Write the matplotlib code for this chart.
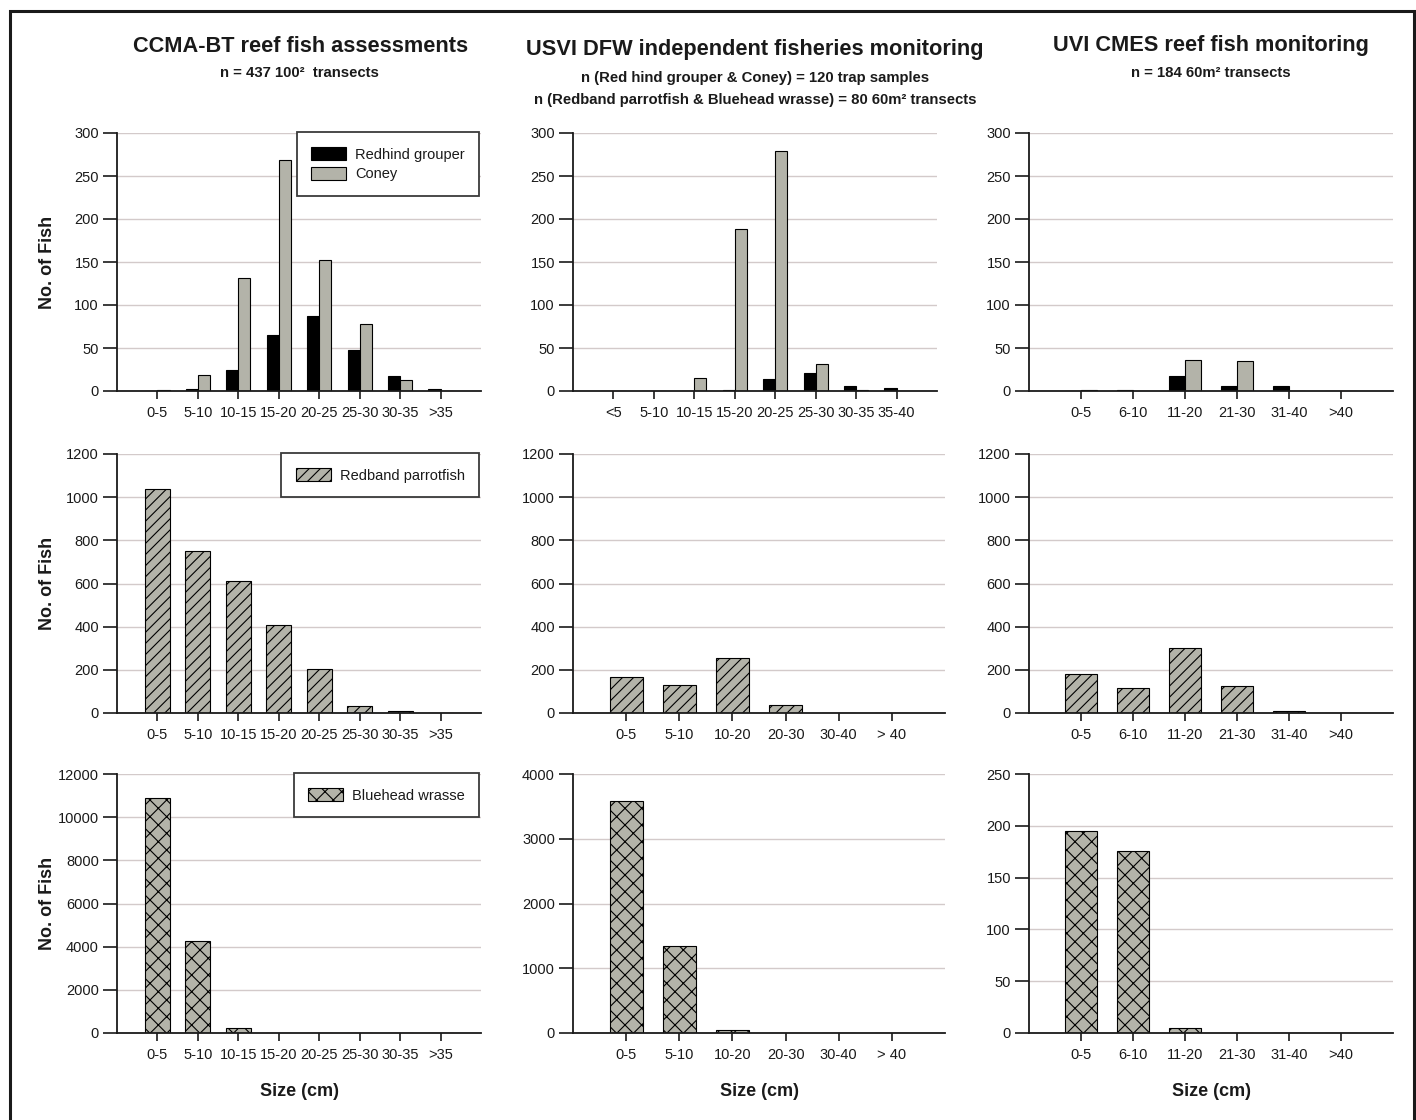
import matplotlib
matplotlib.use("Agg")
import matplotlib.pyplot as plt
from matplotlib.patches import Rectangle
import numpy as np

plt.rcParams['font.family'] = ['Liberation Sans', 'DejaVu Sans']
plt.rcParams['hatch.linewidth'] = 0.8
plt.rcParams['text.color'] = '#1a1a1a'
plt.rcParams['xtick.color'] = '#1a1a1a'
plt.rcParams['ytick.color'] = '#1a1a1a'

# Size classes used by each monitoring programme
ccma_sizes = ["0-5", "5-10", "10-15", "15-20", "20-25", "25-30", "30-35", ">35"]
dfw_trap_sizes = ["<5", "5-10", "10-15", "15-20", "20-25", "25-30", "30-35", "35-40"]
dfw_transect_sizes = ["0-5", "5-10", "10-20", "20-30", "30-40", "> 40"]
uvi_sizes = ["0-5", "6-10", "11-20", "21-30", "31-40", ">40"]

# Red hind grouper and coney counts
ccma_redhind = [0, 2, 25, 65, 87, 48, 17, 2]
ccma_coney = [1, 19, 131, 269, 152, 78, 13, 0]
dfw_redhind = [0, 0, 0, 1, 14, 21, 6, 4]
dfw_coney = [0, 0, 15, 188, 279, 31, 1, 0]
uvi_redhind = [0, 1, 17, 6, 6, 0]
uvi_coney = [1, 0, 36, 35, 0, 0]

# Redband parrotfish counts
ccma_parrotfish = [1038, 749, 613, 408, 202, 34, 11, 0]
dfw_parrotfish = [168, 128, 256, 39, 0, 0]
uvi_parrotfish = [182, 114, 303, 125, 8, 0]

# Bluehead wrasse counts
ccma_wrasse = [10900, 4250, 250, 0, 0, 0, 0, 0]
dfw_wrasse = [3580, 1350, 45, 0, 0, 0]
uvi_wrasse = [195, 176, 5, 0, 0, 0]

W, H = 1416, 1120
fig = plt.figure(figsize=(W / 100, H / 100), dpi=100)
fig.patch.set_facecolor('white')

GRAY = '#b3b3a9'
GRID = '#d3caca'
TICK_FS = 10.5


def px_axes(left, top, right, bottom):
    return fig.add_axes([left / W, 1 - bottom / H, (right - left) / W, (bottom - top) / H])


def style(ax, labels, ymax, ystep):
    n = len(labels)
    ax.set_xlim(0, n + 1)
    ax.set_xticks(np.arange(1, n + 1))
    ax.set_xticklabels(labels)
    ax.set_ylim(0, ymax)
    ax.set_yticks(np.arange(0, ymax + ystep / 2, ystep))
    for s in ('top', 'right'):
        ax.spines[s].set_visible(False)
    for s in ('left', 'bottom'):
        ax.spines[s].set_linewidth(1.3)
        ax.spines[s].set_color('#1a1a1a')
    ax.tick_params(axis='y', direction='out', length=10, width=1.2, pad=3, labelsize=TICK_FS)
    ax.tick_params(axis='x', direction='out', length=6, width=1.2, pad=5, labelsize=TICK_FS)
    ax.set_axisbelow(True)
    ax.yaxis.grid(True, color=GRID, linewidth=1.0)
    ax.xaxis.grid(False)


def add_legend(ax, handles, labels):
    leg = ax.legend(handles, labels, loc='upper right', bbox_to_anchor=(0.995, 1.002),
                    borderaxespad=0, frameon=True, fancybox=False, framealpha=1,
                    edgecolor='#3a3a3a', fontsize=10.5, handlelength=2.4, handleheight=1.0,
                    handletextpad=0.6, borderpad=1.0, labelspacing=0.35)
    leg.get_frame().set_linewidth(1.3)
    return leg


def paired_bars(ax, labels, red, coney):
    x = np.arange(1, len(labels) + 1)
    b1 = ax.bar(x - 0.15, red, width=0.3, color='black', edgecolor='black', linewidth=0.8)
    b2 = ax.bar(x + 0.15, coney, width=0.3, color=GRAY, edgecolor='black', linewidth=0.8)
    return b1, b2


def single_bars(ax, labels, values, hatch):
    x = np.arange(1, len(labels) + 1)
    return ax.bar(x, values, width=0.62, color=GRAY, edgecolor='black', linewidth=0.8,
                  hatch=hatch)


# Row 1: red hind grouper and coney
ax11 = px_axes(117, 133, 481, 391)
b1, b2 = paired_bars(ax11, ccma_sizes, ccma_redhind, ccma_coney)
style(ax11, ccma_sizes, 300, 50)
add_legend(ax11, [b1, b2], ["Redhind grouper", "Coney"])

ax12 = px_axes(573, 133, 937, 391)
paired_bars(ax12, dfw_trap_sizes, dfw_redhind, dfw_coney)
style(ax12, dfw_trap_sizes, 300, 50)

ax13 = px_axes(1029, 133, 1393, 391)
paired_bars(ax13, uvi_sizes, uvi_redhind, uvi_coney)
style(ax13, uvi_sizes, 300, 50)

# Row 2: redband parrotfish
ax21 = px_axes(117, 454, 481, 713)
p = single_bars(ax21, ccma_sizes, ccma_parrotfish, '///')
style(ax21, ccma_sizes, 1200, 200)
add_legend(ax21, [p], ["Redband parrotfish"])

ax22 = px_axes(573, 454, 945, 713)
single_bars(ax22, dfw_transect_sizes, dfw_parrotfish, '///')
style(ax22, dfw_transect_sizes, 1200, 200)

ax23 = px_axes(1029, 454, 1393, 713)
single_bars(ax23, uvi_sizes, uvi_parrotfish, '///')
style(ax23, uvi_sizes, 1200, 200)

# Row 3: bluehead wrasse
ax31 = px_axes(117, 774, 481, 1033)
w = single_bars(ax31, ccma_sizes, ccma_wrasse, 'xx')
style(ax31, ccma_sizes, 12000, 2000)
add_legend(ax31, [w], ["Bluehead wrasse"])

ax32 = px_axes(573, 774, 945, 1033)
single_bars(ax32, dfw_transect_sizes, dfw_wrasse, 'xx')
style(ax32, dfw_transect_sizes, 4000, 1000)

ax33 = px_axes(1029, 774, 1393, 1033)
single_bars(ax33, uvi_sizes, uvi_wrasse, 'xx')
style(ax33, uvi_sizes, 250, 50)

# Column headers
def ftext(x, y, s, **kw):
    fig.text(x / W, 1 - y / H, s, ha='center', va='center', **kw)

ftext(301, 46, "CCMA-BT reef fish assessments", fontsize=15.7, fontweight='bold')
ftext(299, 73, "n = 437 100\u00b2  transects", fontsize=10.7, fontweight='bold')
ftext(755, 49, "USVI DFW independent fisheries monitoring", fontsize=15.7, fontweight='bold')
ftext(755, 78, "n (Red hind grouper & Coney) = 120 trap samples", fontsize=10.7, fontweight='bold')
ftext(755, 100, "n (Redband parrotfish & Bluehead wrasse) = 80 60m\u00b2 transects",
      fontsize=10.7, fontweight='bold')
ftext(1211, 46, "UVI CMES reef fish monitoring", fontsize=15.7, fontweight='bold')
ftext(1211, 73, "n = 184 60m\u00b2 transects", fontsize=10.7, fontweight='bold')

# Axis titles
for yc in ((133 + 391) / 2, (454 + 713) / 2, (774 + 1033) / 2):
    ftext(47, yc, "No. of Fish", fontsize=13, fontweight='bold', rotation=90)
for xc in (299, 759, 1211):
    ftext(xc, 1092, "Size (cm)", fontsize=13, fontweight='bold')

# Outer frame
fig.patches.append(Rectangle((9.5 / W, -0.02), (1413.5 - 9.5) / W, 1.02 - 10.5 / H,
                             transform=fig.transFigure, fill=False,
                             edgecolor='#1a1a1a', linewidth=2.2))

fig.savefig("out.png", dpi=100, facecolor='white')
